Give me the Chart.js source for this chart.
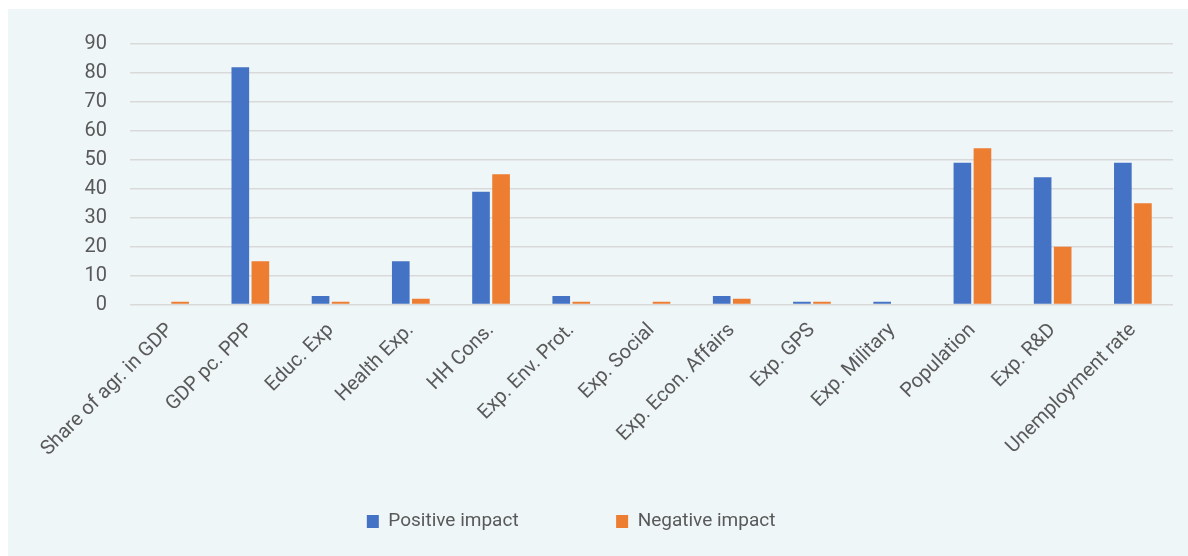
<!doctype html>
<html>
<head>
<title>Impact</title>
<script src="https://cdn.jsdelivr.net/npm/chart.js@4.4.0/dist/chart.umd.min.js"></script>
<style>
  body { margin: 0; background: #fff; }
  #container {
    position: absolute; left: 8px; top: 9px;
    width: 1180px; height: 547px;
    background: #eff6f8;
  }
</style>
</head>
<body>
<div id="container"><canvas id="bar-chart"></canvas></div>
<script>
var categories = ["Share of agr. in GDP", "GDP pc. PPP", "Educ. Exp", "Health Exp.", "HH Cons.",
  "Exp. Env. Prot.", "Exp. Social", "Exp. Econ. Affairs", "Exp. GPS", "Exp. Military",
  "Population", "Exp. R&D", "Unemployment rate"];
var positive = [0, 82, 3, 15, 39, 3, 0, 3, 1, 1, 49, 44, 49];
var negative = [1, 15, 1, 2, 45, 1, 1, 2, 1, 0, 54, 20, 35];
var yTicks = [0, 10, 20, 30, 40, 50, 60, 70, 80, 90];

Chart.defaults.font.family = "Roboto, 'Liberation Sans', sans-serif";
Chart.defaults.color = '#595959';

new Chart(document.getElementById("bar-chart"), {
  type: 'bar',
  data: {
    labels: categories,
    datasets: [
      { label: "Positive impact", data: positive, backgroundColor: '#4472c4', borderWidth: 0 },
      { label: "Negative impact", data: negative, backgroundColor: '#ed7d31', borderWidth: 0 }
    ]
  },
  options: {
    responsive: true,
    maintainAspectRatio: false,
    animation: false,
    categoryPercentage: 0.5,
    barPercentage: 0.88,
    layout: { padding: { left: 0, right: 15, top: 27, bottom: 15 } },
    plugins: {
      legend: {
        position: 'bottom',
        labels: {
          boxWidth: 12, boxHeight: 13, padding: 20, font: { size: 19 }, color: '#595959',
          generateLabels: function(chart) {
            var items = Chart.defaults.plugins.legend.labels.generateLabels(chart);
            // wide gap between the entries and the row sits a bit left of centre
            items[0].text = items[0].text + '\u2003\u2003\u2003\u2003';
            items[1].text = items[1].text + '\u2003\u2003';
            return items;
          }
        }
      },
      tooltip: { enabled: false }
    },
    scales: {
      x: {
        grid: { display: false, drawTicks: false },
        border: { display: false },
        ticks: { minRotation: 45, maxRotation: 45, autoSkip: false, padding: 14,
          font: { size: 20 } },
        afterFit: function(scale) { scale.height += 17; }
      },
      y: {
        min: 0, max: 90,
        afterBuildTicks: function(scale) {
          scale.ticks = yTicks.map(function(v) { return { value: v }; });
        },
        ticks: { padding: 23, font: { size: 20 } },
        grid: { color: '#d9d9d9', lineWidth: 1.5, drawTicks: false },
        border: { display: false },
        afterFit: function(scale) { scale.width = 122; }
      }
    }
  }
});
</script>
</body>
</html>
